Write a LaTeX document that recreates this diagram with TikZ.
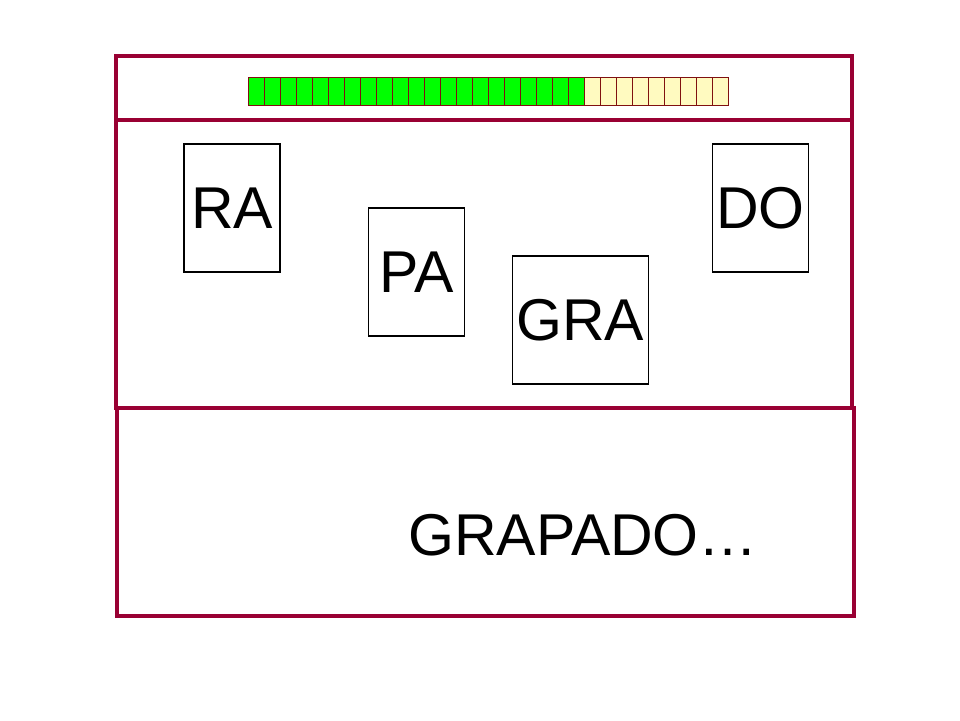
\documentclass[tikz,border=0pt]{standalone}
\usepackage{fontspec}
\setmainfont{Liberation Sans}
\definecolor{framecol}{HTML}{990033}
\definecolor{cellborder}{HTML}{801010}
\definecolor{donecol}{HTML}{00FF00}
\definecolor{todocol}{HTML}{FFFAC0}
\begin{document}
\begin{tikzpicture}[x=1pt,y=-1pt,
  framebox/.style={draw=framecol,line width=3.2pt},
  card/.style={draw=black,line width=1.1pt,inner sep=0pt,
    font=\fontsize{59}{59}\selectfont,
    minimum width=96pt,minimum height=128pt},
  bigtext/.style={inner sep=0pt,font=\fontsize{59}{59}\selectfont},
  cell/.style={draw=cellborder,line width=1pt}]
\useasboundingbox (0,0) rectangle (960,720);
% frames
\draw[framebox] (116,56) rectangle (852,120);
\draw[framebox] (116,120) rectangle (852,408);
\draw[framebox] (117,408) rectangle (854,616);
% progress bar
\foreach \i in {0,...,29}{
  \ifnum\i<21 \def\cc{donecol}\else\def\cc{todocol}\fi
  \draw[cell,fill=\cc] ({248+16*\i},77) rectangle ({264+16*\i},105);
}
% cards
\node[card] (ra) at (232,208) {RA};
\node[card] (pa) at (416.5,272) {PA};
\node[card,minimum width=136pt] (gra) at (580.3,320) {GRA};
\node[card] (do) at (760.3,208) {DO};
% bottom text
\node[bigtext] (grapado) at (583,535) {GRAPADO…};
\end{tikzpicture}
\end{document}
